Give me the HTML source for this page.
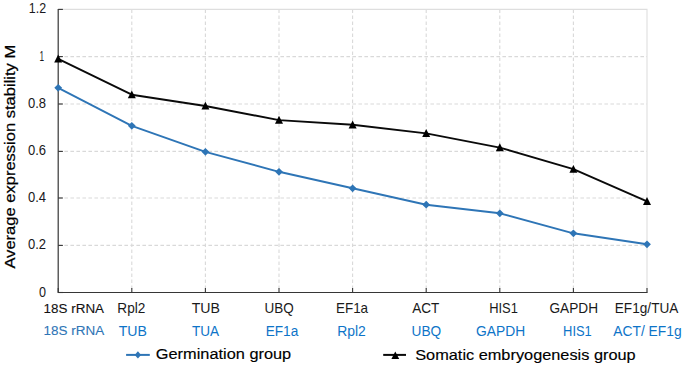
<!DOCTYPE html>
<html><head><meta charset="utf-8"><title>chart</title>
<style>
html,body{margin:0;padding:0;background:#fff;}
body{width:685px;height:367px;overflow:hidden;}
svg{display:block;}
text{font-family:"Liberation Sans",Arial,sans-serif;}
.ax{font-size:13.5px;fill:#1a1a1a;stroke:#1a1a1a;stroke-width:0.15px;}
</style></head><body>
<svg width="685" height="367" viewBox="0 0 685 367">
<rect width="685" height="367" fill="#fff"/>

<line x1="58.400000000000006" x2="647.0" y1="245.40" y2="245.40" stroke="#d9d9d9" stroke-width="1.1" stroke-dasharray="3.6 2.4"/>
<line x1="58.400000000000006" x2="647.0" y1="198.00" y2="198.00" stroke="#d9d9d9" stroke-width="1.1" stroke-dasharray="3.6 2.4"/>
<line x1="58.400000000000006" x2="647.0" y1="151.40" y2="151.40" stroke="#d9d9d9" stroke-width="1.1" stroke-dasharray="3.6 2.4"/>
<line x1="58.400000000000006" x2="647.0" y1="104.00" y2="104.00" stroke="#d9d9d9" stroke-width="1.1" stroke-dasharray="3.6 2.4"/>
<line x1="58.400000000000006" x2="647.0" y1="56.60" y2="56.60" stroke="#d9d9d9" stroke-width="1.1" stroke-dasharray="3.6 2.4"/>
<line x1="131.80" x2="131.80" y1="9.4" y2="292.5" stroke="#d9d9d9" stroke-width="1.1" stroke-dasharray="3.6 2.4"/>
<line x1="205.40" x2="205.40" y1="9.4" y2="292.5" stroke="#d9d9d9" stroke-width="1.1" stroke-dasharray="3.6 2.4"/>
<line x1="279.00" x2="279.00" y1="9.4" y2="292.5" stroke="#d9d9d9" stroke-width="1.1" stroke-dasharray="3.6 2.4"/>
<line x1="352.60" x2="352.60" y1="9.4" y2="292.5" stroke="#d9d9d9" stroke-width="1.1" stroke-dasharray="3.6 2.4"/>
<line x1="426.20" x2="426.20" y1="9.4" y2="292.5" stroke="#d9d9d9" stroke-width="1.1" stroke-dasharray="3.6 2.4"/>
<line x1="499.80" x2="499.80" y1="9.4" y2="292.5" stroke="#d9d9d9" stroke-width="1.1" stroke-dasharray="3.6 2.4"/>
<line x1="573.40" x2="573.40" y1="9.4" y2="292.5" stroke="#d9d9d9" stroke-width="1.1" stroke-dasharray="3.6 2.4"/>
<polyline points="58.2,9.4 647.0,9.4 647.0,292.5" fill="none" stroke="#dedede" stroke-width="1.1"/>
<polyline points="58.2,8.9 58.2,292.5 647.5,292.5" fill="none" stroke="#363636" stroke-width="1.2" stroke-linejoin="miter"/>
<line x1="58.2" x2="62.900000000000006" y1="292.50" y2="292.50" stroke="#363636" stroke-width="1.1"/>
<line x1="58.2" x2="62.900000000000006" y1="245.40" y2="245.40" stroke="#363636" stroke-width="1.1"/>
<line x1="58.2" x2="62.900000000000006" y1="198.00" y2="198.00" stroke="#363636" stroke-width="1.1"/>
<line x1="58.2" x2="62.900000000000006" y1="151.40" y2="151.40" stroke="#363636" stroke-width="1.1"/>
<line x1="58.2" x2="62.900000000000006" y1="104.00" y2="104.00" stroke="#363636" stroke-width="1.1"/>
<line x1="58.2" x2="62.900000000000006" y1="56.60" y2="56.60" stroke="#363636" stroke-width="1.1"/>
<line x1="58.2" x2="62.900000000000006" y1="9.40" y2="9.40" stroke="#363636" stroke-width="1.1"/>
<line x1="58.20" x2="58.20" y1="288.0" y2="292.5" stroke="#363636" stroke-width="1.1"/>
<line x1="131.80" x2="131.80" y1="288.0" y2="292.5" stroke="#363636" stroke-width="1.1"/>
<line x1="205.40" x2="205.40" y1="288.0" y2="292.5" stroke="#363636" stroke-width="1.1"/>
<line x1="279.00" x2="279.00" y1="288.0" y2="292.5" stroke="#363636" stroke-width="1.1"/>
<line x1="352.60" x2="352.60" y1="288.0" y2="292.5" stroke="#363636" stroke-width="1.1"/>
<line x1="426.20" x2="426.20" y1="288.0" y2="292.5" stroke="#363636" stroke-width="1.1"/>
<line x1="499.80" x2="499.80" y1="288.0" y2="292.5" stroke="#363636" stroke-width="1.1"/>
<line x1="573.40" x2="573.40" y1="288.0" y2="292.5" stroke="#363636" stroke-width="1.1"/>
<line x1="647.00" x2="647.00" y1="288.0" y2="292.5" stroke="#363636" stroke-width="1.1"/>
<text transform="translate(39.10,296.50) scale(0.8750,1)" style="font-size:14.4px;fill:#181820;">0</text>
<text transform="translate(28.00,249.40) scale(0.9049,1)" style="font-size:14.4px;fill:#181820;">0.2</text>
<text transform="translate(28.00,202.00) scale(0.9049,1)" style="font-size:14.4px;fill:#181820;">0.4</text>
<text transform="translate(28.00,155.40) scale(0.9049,1)" style="font-size:14.4px;fill:#181820;">0.6</text>
<text transform="translate(28.00,108.00) scale(0.9049,1)" style="font-size:14.4px;fill:#181820;">0.8</text>
<text transform="translate(39.53,60.60) scale(0.5714,1)" style="font-size:14.4px;fill:#181820;">1</text>
<text transform="translate(28.84,13.40) scale(0.8631,1)" style="font-size:14.4px;fill:#181820;">1.2</text>
<text transform="translate(14.6,268.60) rotate(-90) scale(1.0736,1)" style="font-size:15.4px;fill:#000;stroke:#000;stroke-width:0.22px">Average expression stability M</text>
<polyline points="58.20,87.80 131.80,125.80 205.40,151.80 279.00,171.80 352.60,188.30 426.20,204.70 499.80,213.30 573.40,233.30 647.00,244.30" fill="none" stroke="#2e75b6" stroke-width="1.9" stroke-linejoin="round"/>
<path d="M54.30 87.80 L58.20 83.90 L62.10 87.80 L58.20 91.70Z" fill="#2e75b6"/>
<path d="M127.90 125.80 L131.80 121.90 L135.70 125.80 L131.80 129.70Z" fill="#2e75b6"/>
<path d="M201.50 151.80 L205.40 147.90 L209.30 151.80 L205.40 155.70Z" fill="#2e75b6"/>
<path d="M275.10 171.80 L279.00 167.90 L282.90 171.80 L279.00 175.70Z" fill="#2e75b6"/>
<path d="M348.70 188.30 L352.60 184.40 L356.50 188.30 L352.60 192.20Z" fill="#2e75b6"/>
<path d="M422.30 204.70 L426.20 200.80 L430.10 204.70 L426.20 208.60Z" fill="#2e75b6"/>
<path d="M495.90 213.30 L499.80 209.40 L503.70 213.30 L499.80 217.20Z" fill="#2e75b6"/>
<path d="M569.50 233.30 L573.40 229.40 L577.30 233.30 L573.40 237.20Z" fill="#2e75b6"/>
<path d="M643.10 244.30 L647.00 240.40 L650.90 244.30 L647.00 248.20Z" fill="#2e75b6"/>
<polyline points="58.20,58.90 131.80,94.70 205.40,106.00 279.00,120.10 352.60,124.80 426.20,133.40 499.80,147.60 573.40,169.20 647.00,201.40" fill="none" stroke="#0a0a0a" stroke-width="1.9" stroke-linejoin="round"/>
<path d="M54.20 62.50 L58.20 54.60 L62.20 62.50Z" fill="#000"/>
<path d="M127.80 98.30 L131.80 90.40 L135.80 98.30Z" fill="#000"/>
<path d="M201.40 109.60 L205.40 101.70 L209.40 109.60Z" fill="#000"/>
<path d="M275.00 123.70 L279.00 115.80 L283.00 123.70Z" fill="#000"/>
<path d="M348.60 128.40 L352.60 120.50 L356.60 128.40Z" fill="#000"/>
<path d="M422.20 137.00 L426.20 129.10 L430.20 137.00Z" fill="#000"/>
<path d="M495.80 151.20 L499.80 143.30 L503.80 151.20Z" fill="#000"/>
<path d="M569.40 172.80 L573.40 164.90 L577.40 172.80Z" fill="#000"/>
<path d="M643.00 205.00 L647.00 197.10 L651.00 205.00Z" fill="#000"/>
<text transform="translate(43.60,312.50) scale(1.0026,1)" style="font-size:13.4px;fill:#111;stroke:#111;stroke-width:0.1px;">18S rRNA</text>
<text transform="translate(117.35,312.50) scale(0.9478,1)" style="font-size:14.4px;fill:#1a1a1a;">Rpl2</text>
<text transform="translate(191.70,312.50) scale(0.9829,1)" style="font-size:14.4px;fill:#1a1a1a;">TUB</text>
<text transform="translate(264.46,312.50) scale(0.9370,1)" style="font-size:14.4px;fill:#1a1a1a;">UBQ</text>
<text transform="translate(335.97,312.50) scale(0.9344,1)" style="font-size:14.4px;fill:#1a1a1a;">EF1a</text>
<text transform="translate(412.20,312.50) scale(0.9417,1)" style="font-size:14.4px;fill:#1a1a1a;">ACT</text>
<text transform="translate(549.50,312.50) scale(0.9491,1)" style="font-size:14.4px;fill:#1a1a1a;">GAPDH</text>
<text transform="translate(614.75,312.50) scale(0.9478,1)" style="font-size:14.4px;fill:#1a1a1a;">EF1g/TUA</text>
<text transform="translate(489.20,312.50) scale(0.8970,1)" style="font-size:14.4px;fill:#1a1a1a;">HIS<tspan style="font-family:"Liberation Serif",serif">1</tspan></text>
<text transform="translate(43.59,335.00) scale(1.0060,1)" style="font-size:13.4px;fill:#2e75b6;stroke:#2e75b6;stroke-width:0.1px;">18S rRNA</text>
<text transform="translate(118.70,335.80) scale(0.9793,1)" style="font-size:14.4px;fill:#0d74c8;">TUB</text>
<text transform="translate(191.90,335.80) scale(0.9423,1)" style="font-size:14.4px;fill:#0d74c8;">TUA</text>
<text transform="translate(265.65,335.80) scale(0.9493,1)" style="font-size:14.4px;fill:#0d74c8;">EF1a</text>
<text transform="translate(337.13,335.80) scale(0.9653,1)" style="font-size:14.4px;fill:#0d74c8;">Rpl2</text>
<text transform="translate(411.55,335.80) scale(0.9503,1)" style="font-size:14.4px;fill:#0d74c8;">UBQ</text>
<text transform="translate(476.10,335.80) scale(0.9590,1)" style="font-size:14.4px;fill:#0d74c8;">GAPDH</text>
<text transform="translate(613.30,335.80) scale(0.9597,1)" style="font-size:14.4px;fill:#0d74c8;">ACT/ EF1g</text>
<text transform="translate(563.10,335.80) scale(0.8970,1)" style="font-size:14.4px;fill:#0d74c8;">HIS<tspan style="font-family:"Liberation Serif",serif">1</tspan></text>
<line x1="126.1" x2="149.8" y1="354.9" y2="354.9" stroke="#2e75b6" stroke-width="2"/>
<path d="M134.7 354.9 L137.9 351.2 L141.1 354.9 L137.9 358.6Z" fill="#2e75b6"/>
<text transform="translate(155.80,359.40) scale(1.0622,1)" style="font-size:15.4px;fill:#000;stroke:#000;stroke-width:0.15px;">Germination group</text>
<line x1="383.2" x2="406" y1="354.9" y2="354.9" stroke="#0a0a0a" stroke-width="2"/>
<path d="M391.4 358.9 L395.3 351.6 L399.2 358.9Z" fill="#000"/>
<text transform="translate(415.20,359.90) scale(1.0612,1)" style="font-size:15.4px;fill:#000;stroke:#000;stroke-width:0.15px;">Somatic embryogenesis group</text>
</svg></body></html>
